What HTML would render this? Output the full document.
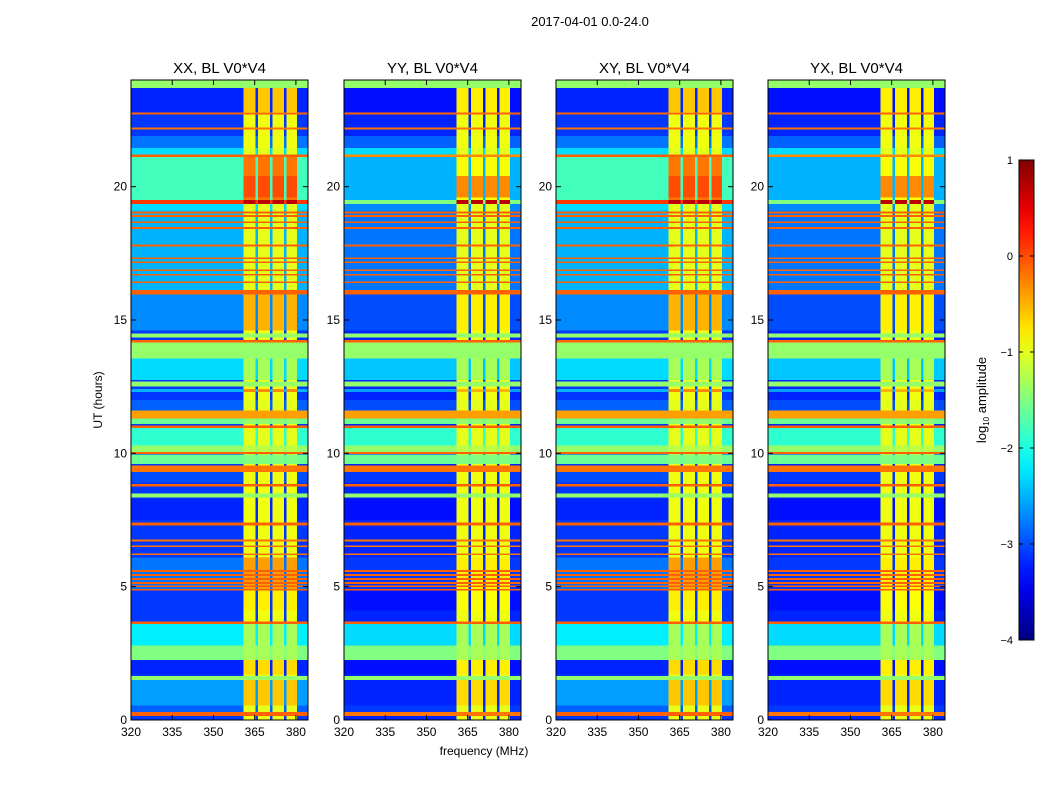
<!DOCTYPE html>
<html><head><meta charset="utf-8"><style>
body{margin:0;background:#fff;font-family:"Liberation Sans",sans-serif}
svg text{font-family:"Liberation Sans",sans-serif}
</style></head><body>
<svg id="fig" width="1050" height="800" xmlns="http://www.w3.org/2000/svg">
<rect width="1050" height="800" fill="#fff"/>
<text x="590" y="26" font-size="13" text-anchor="middle">2017-04-01 0.0-24.0</text>
<text x="484" y="755" font-size="12" text-anchor="middle">frequency (MHz)</text>
<text x="102" y="400" font-size="12" text-anchor="middle" transform="rotate(-90 102 400)">UT (hours)</text>
<g id="panels"></g>
<g id="cbar"></g>
</svg>
<script>
const panelTitles = ["XX, BL V0*V4","YY, BL V0*V4","XY, BL V0*V4","YX, BL V0*V4"];
const panelPol = ["X","Y","X","Y"];
const xTicks = [320,335,350,365,380];
const yTicks = [0,5,10,15,20];
const cbTicks = [-4,-3,-2,-1,0,1];
const colLo = [320,361,365.3,366.2,370.6,371.4,375.7,376.5,380.4];
const colHi = [361,365.3,366.2,370.6,371.4,375.7,376.5,380.4,385];
const colKind = ["bg","rfi","bg","rfi","bg","rfi","bg","rfi","bg"];
const bandLo = [0,23.7,22.8,22.7,22.15,21.45,21.2,21.12,19.5,19.6, 19.35,19.1,16.1,19.0,18.86,18.63,18.41,17.76,17.28,17.13, 16.83,16.66,16.38,15.95,14.6,14.35,14.15,13.55,12.75,12.5, 12.3,11.6,11.3,11.1,10.95,10.3,10.05,9.97,9.6,9.3, 8.9,8.75,8.35,7.5,7.3,6.7,6.48,6.18,4.9,5.55, 5.4,5.25,5.1,4.98,4.85,4.1,3.6,2.8,2.25,1.7, 1.5,0.55,0.3,0.15];
const bandHi = [24,24,23.7,22.78,22.22,21.9,21.45,21.2,21.12,20.4, 19.5,19.35,19.1,19.07,18.93,18.7,18.48,17.83,17.35,17.2, 16.9,16.73,16.45,16.12,15.95,14.5,14.25,14.15,13.55,12.7, 12.42,12.0,11.6,11.3,11.05,10.95,10.3,10.05,9.95,9.55, 9.3,8.85,8.5,8.3,7.4,6.76,6.54,6.24,6.1,5.62, 5.47,5.32,5.17,5.05,4.92,4.85,3.7,3.6,2.8,2.25, 1.65,1.5,0.55,0.3];
const bgX = [-3.1,-1.4,-3.2,-0.1,-0.2,-2.8,-2.3,-0.1,-1.8,-1.8, 0.1,-2.3,-2.5,-0.1,-0.1,-0.1,-0.1,-0.1,-0.1,-0.1, -0.1,-0.1,-0.1,-0.1,-2.7,-1.4,-0.1,-1.4,-2.3,-1.4, -2.5,-2.9,-0.4,-1.6,-0.1,-1.9,-1.4,-0.1,-1.6,-0.2, -3.0,-0.1,-1.4,-3.2,-0.1,-0.2,-0.2,-0.2,-2.8,-0.1, -0.1,-0.1,-0.1,-0.1,-0.1,-3.1,-0.1,-2.2,-1.5,-3.2, -1.4,-2.6,-2.9,-0.1];
const bgY = [-3.2,-1.4,-3.3,-0.1,-0.2,-2.9,-2.3,-0.3,-2.5,-2.5, -1.5,-2.7,-2.8,-0.1,-0.1,-0.1,-0.1,-0.1,-0.1,-0.1, -0.1,-0.1,-0.1,-0.1,-3.0,-1.4,-0.1,-1.4,-2.4,-1.4, -2.6,-3.0,-0.4,-1.6,-0.1,-1.9,-1.4,-0.1,-1.6,-0.2, -3.1,-0.1,-1.4,-3.3,-0.1,-0.2,-0.2,-0.2,-3.1,-0.1, -0.1,-0.1,-0.1,-0.1,-0.1,-3.3,-0.1,-2.3,-1.5,-3.3, -1.4,-3.2,-3.1,-0.2];
const rfiX = [-0.95,-1.4,-0.6,-0.1,-0.2,-0.95,-1.0,-0.1,-0.2,0.0, 0.7,-1.0,-1.0,-0.1,-0.1,-0.1,-0.1,-0.1,-0.1,-0.1, -0.1,-0.1,-0.1,-0.1,-0.5,-1.4,-0.1,-1.4,-1.3,-1.4, -0.3,-1.0,-0.4,-1.4,-0.1,-1.0,-1.2,-0.1,-1.5,-0.2, -0.95,-0.1,-1.4,-0.95,-0.1,-0.2,-0.2,-0.2,-0.4,-0.1, -0.1,-0.1,-0.1,-0.1,-0.1,-0.8,-0.1,-1.3,-1.3,-0.7, -1.4,-0.6,-1.0,-0.1];
const rfiY = [-0.95,-1.4,-0.8,-0.1,-0.2,-0.95,-1.0,-0.3,-0.9,-0.3, 0.7,-1.0,-1.0,-0.1,-0.1,-0.1,-0.1,-0.1,-0.1,-0.1, -0.1,-0.1,-0.1,-0.1,-0.8,-1.4,-0.1,-1.4,-1.3,-1.4, -0.5,-1.0,-0.4,-1.4,-0.1,-1.0,-1.2,-0.1,-1.5,-0.2, -0.95,-0.1,-1.4,-0.95,-0.1,-0.2,-0.2,-0.2,-0.8,-0.1, -0.1,-0.1,-0.1,-0.1,-0.1,-0.9,-0.1,-1.3,-1.3,-0.8, -1.4,-0.7,-1.0,-0.2];

const NS="http://www.w3.org/2000/svg";
const VMIN=-4, VMAX=1;
const panelLeft=[131,344,556,768], PW=177, PT=80, PH=640, XMIN=320, XMAX=384.4, YMIN=0, YMAX=24;
function clip(v){return Math.max(0,Math.min(1,v));}
function jet(v){
  const t=clip((v-VMIN)/(VMAX-VMIN));
  const r=clip(1.5-Math.abs(4*t-3)), g=clip(1.5-Math.abs(4*t-2)), b=clip(1.5-Math.abs(4*t-1));
  return "rgb("+Math.round(r*255)+","+Math.round(g*255)+","+Math.round(b*255)+")";
}
function mk(tag,attrs,parent){const e=document.createElementNS(NS,tag);for(const k in attrs)e.setAttribute(k,attrs[k]);parent.appendChild(e);return e;}
const panels=document.getElementById("panels");
panelTitles.forEach((title,p)=>{
  const L=panelLeft[p];
  const xs=v=>L+(v-XMIN)/(XMAX-XMIN)*PW;
  const ys=v=>PT+PH-(v-YMIN)/(YMAX-YMIN)*PH;
  const g=mk("g",{},panels);
  
  
  const cp=mk("clipPath",{id:"cp"+p},g); mk("rect",{x:L,y:PT,width:PW,height:PH},cp);
  const hm=mk("g",{"clip-path":"url(#cp"+p+")","shape-rendering":"crispEdges"},g);
  
  
  const bg = panelPol[p]==="X"?bgX:bgY, rf = panelPol[p]==="X"?rfiX:rfiY;
  for(let i=0;i<bandLo.length;i++){
    for(let c=0;c<colLo.length;c++){
      const v = colKind[c]==="rfi"?rf[i]:bg[i];
      const x0=xs(colLo[c]), x1=xs(colHi[c]), y0=ys(bandHi[i]), y1=ys(bandLo[i]);
      const r=mk("rect",{x:x0.toFixed(2),y:y0.toFixed(2),width:(x1-x0).toFixed(2),height:Math.max(1,y1-y0).toFixed(2),fill:jet(v)},hm);
      
      
    }
  }
  const fr=mk("rect",{x:L,y:PT,width:PW,height:PH,fill:"none",stroke:"#000","stroke-width":1},g);
  
  
  const t=mk("text",{x:L+PW/2,y:PT-7,"font-size":15,"text-anchor":"middle"},g); t.textContent=title;
  
  
  xTicks.forEach(v=>{
    const x=xs(v);
    mk("line",{x1:x,x2:x,y1:PT+PH,y2:PT+PH-5,stroke:"#000"},g);
    mk("line",{x1:x,x2:x,y1:PT,y2:PT+5,stroke:"#000"},g);
    const tl=mk("text",{x:x,y:PT+PH+16,"font-size":12,"text-anchor":"middle"},g); tl.textContent=v;
    
    
  });
  yTicks.forEach(v=>{
    const y=ys(v);
    mk("line",{x1:L,x2:L+5,y1:y,y2:y,stroke:"#000"},g);
    mk("line",{x1:L+PW,x2:L+PW-5,y1:y,y2:y,stroke:"#000"},g);
    const tl=mk("text",{x:L-4,y:y+4,"font-size":12,"text-anchor":"end"},g); tl.textContent=v;
    
    
  });
});
const cb=document.getElementById("cbar");
const CX=1019, CW=15, CT=160, CH=480;
const defs=mk("defs",{},cb);
const lg=mk("linearGradient",{id:"jetg",x1:0,y1:1,x2:0,y2:0},defs);
for(let i=0;i<=20;i++){mk("stop",{offset:(i/20),"stop-color":jet(VMIN+(VMAX-VMIN)*i/20)},lg);}
const cr=mk("rect",{x:CX,y:CT,width:CW,height:CH,fill:"url(#jetg)",stroke:"#000"},cb);


const cys=v=>CT+CH-(v-VMIN)/(VMAX-VMIN)*CH;
cbTicks.forEach(v=>{
  const y=cys(v);
  mk("line",{x1:CX,x2:CX+4,y1:y,y2:y,stroke:"#000"},cb);
  mk("line",{x1:CX+CW,x2:CX+CW-4,y1:y,y2:y,stroke:"#000"},cb);
  const tl=mk("text",{x:CX-6,y:y+4,"font-size":11,"text-anchor":"end"},cb); tl.textContent=(v<0?"\u2212"+(-v):v);
  
  
});
const cl=mk("text",{x:986,y:400,"font-size":13,"text-anchor":"middle",transform:"rotate(-90 986 400)"},cb);
cl.innerHTML='log<tspan font-size="8" dy="3">10</tspan><tspan dy="-3"> amplitude</tspan>';


</script>
</body></html>
